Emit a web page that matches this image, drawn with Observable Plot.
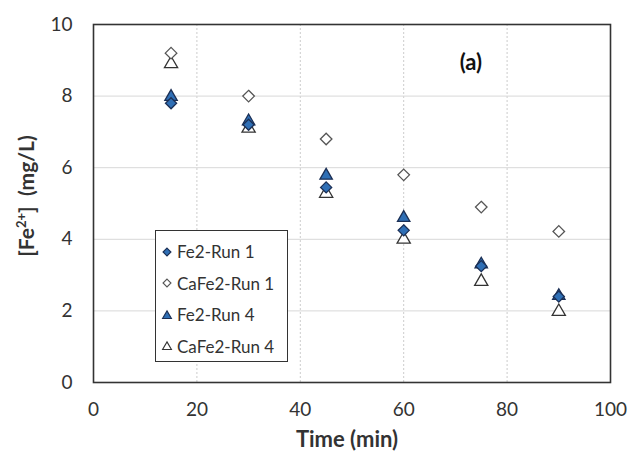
<!DOCTYPE html>
<html><head><meta charset="utf-8">
<script src="https://cdn.jsdelivr.net/npm/d3@7"></script>
<script src="https://cdn.jsdelivr.net/npm/@observablehq/plot@0.6"></script>
<style>
body{margin:0;background:#fff;font-family:Lato,"Open Sans",sans-serif;}
#wrap{position:relative;width:631px;height:457px;}
#legend{position:absolute;left:155px;top:230px;width:133px;height:132px;border:1.5px solid #333;background:#fff;box-sizing:border-box;padding:5px 0 0 5px;font-size:17px;color:#333;}
#legend div{display:flex;align-items:center;height:31.5px;}
#legend svg{margin-right:4px;}
</style></head>
<body><div id="wrap"></div>
<script>
const times = [15, 30, 45, 60, 75, 90];
const fe2Run1 = [7.8, 7.2, 5.45, 4.25, 3.25, 2.4];
const cafe2Run1 = [9.2, 8.0, 6.8, 5.8, 4.9, 4.22];
const fe2Run4 = [7.98, 7.3, 5.78, 4.6, 3.3, 2.42];
const cafe2Run4 = [8.9, 7.1, 5.28, 4.0, 2.82, 1.98];
const seriesNames = ["Fe2-Run 1", "CaFe2-Run 1", "Fe2-Run 4", "CaFe2-Run 4"];
const xTicks = [0, 20, 40, 60, 80, 100];
const yTicks = [0, 2, 4, 6, 8, 10];
const panelLabel = [{x: 73, y: 8.92, text: "(a)"}];

const styles = {
  "Fe2-Run 1": {symbol: "diamond2", fill: "#2f6fb5", stroke: "#1b2f55", r: 5.0},
  "CaFe2-Run 1": {symbol: "diamond2", fill: "#fff", stroke: "#555", r: 5.2},
  "Fe2-Run 4": {symbol: "triangle", fill: "#2f6fb5", stroke: "#1b2f55", r: 4.6},
  "CaFe2-Run 4": {symbol: "triangle", fill: "#fff", stroke: "#333", r: 4.9}
};
const allSeries = [fe2Run1, cafe2Run1, fe2Run4, cafe2Run4];
const rows = s => times.map((t, i) => ({t, v: allSeries[seriesNames.indexOf(s)][i]}));
const drawOrder = ["CaFe2-Run 4", "CaFe2-Run 1", "Fe2-Run 4", "Fe2-Run 1"];

const chart = Plot.plot({
  width: 631, height: 457,
  marginLeft: 93, marginRight: 21, marginTop: 24, marginBottom: 75,
  style: {fontFamily: "Lato, 'Open Sans', sans-serif", fontSize: "16px", color: "#333", background: "#fff"},
  x: {domain: [0, 100], ticks: xTicks, tickSize: 0, tickPadding: 18, label: null},
  y: {domain: [0, 10], ticks: yTicks, tickSize: 0, tickPadding: 21, label: null},
  marks: [
    Plot.gridX(xTicks.slice(1, -1), {stroke: "#ccc", strokeOpacity: 1, strokeDasharray: "2,2"}),
    Plot.gridY(yTicks.slice(1, -1), {stroke: "#d8d8d8", strokeOpacity: 1}),
    Plot.axisX({ticks: xTicks, tickSize: 0, tickPadding: 20, fontSize: 19}),
    Plot.axisY({ticks: yTicks, tickSize: 0, tickPadding: 21, fontSize: 19}),
    ...drawOrder.map(s => Plot.dot(rows(s), {x: "t", y: "v", symbol: () => styles[s].symbol, r: styles[s].r, fill: styles[s].fill, stroke: styles[s].stroke, strokeWidth: 1.3})),
    Plot.text(panelLabel, {x: "x", y: "y", text: "text", fontSize: 22, fontWeight: "bold", fill: "#111"}),
    Plot.frame({stroke: "#333", strokeWidth: 1.6})
  ]
});
const wrap = document.getElementById("wrap");
wrap.appendChild(chart);

// axis titles
const svg = d3.select(chart);
svg.append("text").attr("x", 347).attr("y", 447).attr("text-anchor", "middle")
  .attr("font-size", 22).attr("font-weight", "bold").attr("fill", "#333").text("Time (min)");
const yl = svg.append("text").attr("transform", "translate(34,196) rotate(-90)").attr("text-anchor", "middle")
  .attr("font-size", 21).attr("font-weight", "bold").attr("fill", "#333");
yl.append("tspan").text("[Fe");
yl.append("tspan").attr("baseline-shift", "super").attr("font-size", 13).text("2+");
yl.append("tspan").text("]  (mg/L)");

// legend
const leg = document.createElement("div");
leg.id = "legend";
seriesNames.forEach(s => {
  const st = styles[s];
  const row = document.createElement("div");
  const sym = d3.create("svg").attr("width", 12).attr("height", 12);
  const d = d3.symbol(st.symbol === "diamond2" ? d3.symbolDiamond2 : d3.symbolTriangle, st.symbol === "diamond2" ? 40 : 34)();
  sym.append("path").attr("d", d).attr("transform", st.symbol === "triangle" ? "translate(6,7)" : "translate(6,6)")
    .attr("fill", st.fill).attr("stroke", st.stroke).attr("stroke-width", 1.1);
  row.appendChild(sym.node());
  const sp = document.createElement("span");
  sp.textContent = s;
  row.appendChild(sp);
  leg.appendChild(row);
});
wrap.appendChild(leg);
</script></body></html>
